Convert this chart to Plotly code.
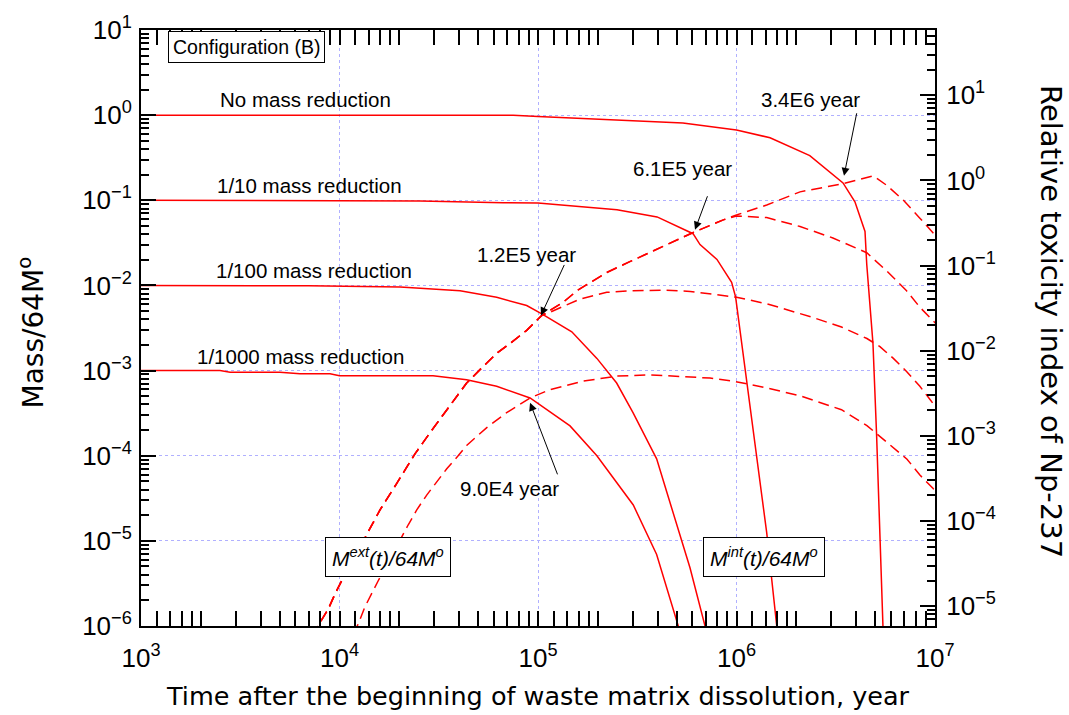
import plotly.graph_objects as go
import math

# ---------------- data ----------------
# Solid: mass remaining inside, M_int(t)/64M°
t_int_none = [1e3, 7.5e4, 1e5, 2.5e5, 5.37e5, 1e6, 1.476e6, 2.34e6, 3.44e6, 3.95e6, 4.44e6, 4.53e6, 4.87e6, 5.08e6, 5.47e6, 5.65e6]
m_int_none = [1.0, 1.0, 0.964, 0.885, 0.81, 0.671, 0.542, 0.335, 0.16, 0.096, 0.043, 0.0177, 2.08e-3, 1.73e-4, 1e-6, 1e-7]

t_int_tenth = [1e3, 2.02e4, 2.55e4, 6.67e4, 1e5, 2.5e5, 3.98e5, 6.04e5, 6.55e5, 7.97e5, 9.45e5, 9.9e5, 1.34e6, 1.42e6, 1.595e6, 1.77e6]
m_int_tenth = [0.1, 0.1, 0.098, 0.0935, 0.0928, 0.0776, 0.0638, 0.0405, 0.0302, 0.0202, 0.0109, 7.3e-3, 3.77e-5, 1.24e-5, 1e-6, 1e-7]

t_int_hundredth = [1e3, 7.0e3, 2.02e4, 4.05e4, 6.19e4, 8.77e4, 1.045e5, 1.48e5, 1.98e5, 2.49e5, 3.01e5, 3.96e5, 4.45e5, 5.83e5, 6.94e5, 8.93e5]
m_int_hundredth = [0.01, 9.9e-3, 9.56e-3, 8.65e-3, 7.26e-3, 5.80e-3, 4.64e-3, 2.85e-3, 1.39e-3, 7.14e-4, 3.2e-4, 9.2e-5, 3.77e-5, 4.84e-6, 1e-6, 1e-7]

t_int_thousandth = [1e3, 2.5e3, 2.81e3, 5.01e3, 6.32e3, 8.96e3, 1.0e4, 2.96e4, 4.37e4, 6.19e4, 9.12e4, 1.45e5, 1.98e5, 2.69e5, 3.02e5, 3.96e5, 5.09e5, 6.86e5]
m_int_thousandth = [1e-3, 1e-3, 9.57e-4, 9.57e-4, 9.16e-4, 9.16e-4, 8.68e-4, 8.68e-4, 7.8e-4, 6.53e-4, 4.77e-4, 2.24e-4, 1.0e-4, 3.77e-5, 2.64e-5, 6.93e-6, 1e-6, 1e-7]

# Dashed: mass released outside, M_ext(t)/64M°
t_ext_none = [4.63e3, 7.82e3, 8.79e3, 9.49e3, 1.026e4, 1.452e4, 1.60e4, 1.94e4, 2.40e4, 2.86e4, 3.47e4, 4.37e4, 5.30e4, 6.19e4, 7.23e4, 8.77e4, 1.045e5,
              1.34e5, 1.57e5, 2.22e5, 2.90e5, 4.28e5, 5.98e5, 8.58e5, 1.0e6, 1.42e6, 2.09e6, 3.45e6, 4.88e6, 5.71e6, 6.92e6, 8.39e6, 9.79e6, 1.07e7]
m_ext_none = [1e-7, 1.02e-6, 1.59e-6, 2.38e-6, 3.40e-6, 1.545e-5, 2.31e-5, 4.71e-5, 1.05e-4, 1.87e-4, 3.50e-4, 7.14e-4, 1.12e-3, 1.59e-3, 2.08e-3, 2.97e-3, 4.44e-3,
              6.35e-3, 8.65e-3, 1.42e-2, 1.9e-2, 2.88e-2, 4.13e-2, 5.89e-2, 6.73e-2, 8.79e-2, 0.1256, 0.157, 0.1936, 0.150, 0.1005, 6.17e-2, 4.13e-2, 3.27e-2]

t_ext_tenth = [4.63e3, 7.82e3, 8.79e3, 9.49e3, 1.026e4, 1.452e4, 1.60e4, 1.94e4, 2.40e4, 2.86e4, 3.47e4, 4.37e4, 5.30e4, 6.19e4, 7.23e4, 8.77e4, 1.045e5,
               1.34e5, 1.57e5, 2.22e5, 2.90e5, 4.28e5, 5.98e5, 8.58e5, 1.0e6, 1.42e6, 2.09e6, 3.06e6, 4.53e6, 5.71e6, 7.19e6, 8.39e6, 9.79e6, 1.07e7]
m_ext_tenth = [1e-7, 1.02e-6, 1.59e-6, 2.38e-6, 3.40e-6, 1.545e-5, 2.31e-5, 4.71e-5, 1.05e-4, 1.87e-4, 3.50e-4, 7.14e-4, 1.12e-3, 1.59e-3, 2.08e-3, 2.97e-3, 4.44e-3,
               6.35e-3, 8.65e-3, 1.42e-2, 1.9e-2, 2.88e-2, 4.13e-2, 5.89e-2, 6.55e-2, 6.27e-2, 4.92e-2, 3.61e-2, 2.42e-2, 1.48e-2, 8.65e-3, 5.55e-3, 3.88e-3, 3.1e-3]

t_ext_hundredth = [4.63e3, 7.82e3, 8.79e3, 9.49e3, 1.026e4, 1.452e4, 1.60e4, 1.94e4, 2.40e4, 2.86e4, 3.47e4, 4.37e4, 5.30e4, 6.19e4, 7.23e4, 8.77e4, 1.045e5,
                   1.15e5, 1.63e5, 2.22e5, 2.90e5, 4.28e5, 5.85e5, 8.47e5, 1.0e6, 1.43e6, 2.39e6, 3.38e6, 4.54e6, 5.28e6, 6.17e6, 7.19e6, 8.39e6, 9.44e6, 1.07e7]
m_ext_hundredth = [1e-7, 1.02e-6, 1.59e-6, 2.38e-6, 3.40e-6, 1.545e-5, 2.31e-5, 4.71e-5, 1.05e-4, 1.87e-4, 3.50e-4, 7.14e-4, 1.12e-3, 1.59e-3, 2.08e-3, 2.97e-3, 4.44e-3,
                   4.85e-3, 6.93e-3, 8.30e-3, 8.65e-3, 8.81e-3, 8.51e-3, 7.57e-3, 7.26e-3, 6.07e-3, 4.25e-3, 3.25e-3, 2.38e-3, 1.91e-3, 1.39e-3, 9.77e-4, 6.53e-4, 4.57e-4, 3.12e-4]

t_ext_thousandth = [7.73e3, 1.245e4, 1.34e4, 1.452e4, 1.567e4, 2.22e4, 2.45e4, 2.75e4, 3.09e4, 3.47e4, 3.96e4, 4.37e4, 5.52e4, 6.95e4, 9.12e4, 1.15e5, 1.69e5,
                    2.49e5, 3.66e5, 5.37e5, 7.35e5, 9.59e5, 1.43e6, 2.09e6, 3.38e6, 4.54e6, 5.73e6, 7.23e6, 8.39e6, 9.79e6, 1.07e7]
m_ext_thousandth = [1e-7, 1.07e-6, 1.66e-6, 2.38e-6, 3.40e-6, 1.545e-5, 2.31e-5, 3.45e-5, 4.92e-5, 7.03e-5, 1.0e-4, 1.32e-4, 2.14e-4, 3.20e-4, 4.77e-4, 5.97e-4, 7.53e-4,
                    8.61e-4, 8.91e-4, 8.53e-4, 8.17e-4, 7.53e-4, 6.25e-4, 5.05e-4, 3.47e-4, 2.26e-4, 1.44e-4, 9.1e-5, 5.94e-5, 4.11e-5, 3.13e-5]

# Curve labels
curve_labels = ["No mass reduction", "1/10 mass reduction", "1/100 mass reduction", "1/1000 mass reduction"]

# Intersection annotations (label, arrow-tip time, arrow-tip mass)
cross_labels = ["3.4E6 year", "6.1E5 year", "1.2E5 year", "9.0E4 year"]
cross_t = [3.48e6, 6.18e5, 1.035e5, 9.12e4]
cross_m = [0.194, 0.0451, 4.44e-3, 4.18e-4]

# Axis ticks
x_tickvals = [1e3, 1e4, 1e5, 1e6, 1e7]
x_ticktext = ["10<sup>3</sup>", "10<sup>4</sup>", "10<sup>5</sup>", "10<sup>6</sup>", "10<sup>7</sup>"]
y_tickvals = [1e-6, 1e-5, 1e-4, 1e-3, 1e-2, 1e-1, 1e0, 1e1]
y_ticktext = ["10<sup>−6</sup>", "10<sup>−5</sup>", "10<sup>−4</sup>", "10<sup>−3</sup>",
              "10<sup>−2</sup>", "10<sup>−1</sup>", "10<sup>0</sup>", "10<sup>1</sup>"]
y2_tickvals = [1e-5, 1e-4, 1e-3, 1e-2, 1e-1, 1e0, 1e1]
y2_ticktext = ["10<sup>−5</sup>", "10<sup>−4</sup>", "10<sup>−3</sup>", "10<sup>−2</sup>",
               "10<sup>−1</sup>", "10<sup>0</sup>", "10<sup>1</sup>"]

# ---------------- figure ----------------
RED = "#ff0000"
fig = go.Figure()

for t, m in [(t_int_none, m_int_none), (t_int_tenth, m_int_tenth),
             (t_int_hundredth, m_int_hundredth), (t_int_thousandth, m_int_thousandth)]:
    fig.add_trace(go.Scatter(x=t, y=m, mode="lines", line=dict(color=RED, width=1.5),
                             showlegend=False, hoverinfo="skip"))

for t, m in [(t_ext_none, m_ext_none), (t_ext_tenth, m_ext_tenth),
             (t_ext_hundredth, m_ext_hundredth), (t_ext_thousandth, m_ext_thousandth)]:
    fig.add_trace(go.Scatter(x=t, y=m, mode="lines", line=dict(color=RED, width=1.5, dash="11px,6px"),
                             showlegend=False, hoverinfo="skip"))

# helper trace so the right-hand axis is drawn
fig.add_trace(go.Scatter(x=[1e3], y=[None], yaxis="y2", mode="lines", showlegend=False, hoverinfo="skip"))

x_minor = [k * 10 ** e for e in range(3, 7) for k in (1.2, 1.4, 1.6, 1.8, 2, 3, 4, 5, 6, 7, 8, 9)]
y_minor = [k * 10.0 ** e for e in range(-7, 2) for k in (2, 3, 4, 5, 6, 7, 8, 9)]

TICKFONT = dict(family="Liberation Sans, Arial, sans-serif", size=26, color="black")
GRID = "#b0b0ff"

fig.update_layout(
    width=1069, height=715,
    margin=dict(l=141, r=134, t=23, b=89),
    paper_bgcolor="white", plot_bgcolor="white",
    showlegend=False,
    xaxis=dict(type="log", range=[3, 7], tickvals=x_tickvals, ticktext=x_ticktext,
               ticks="inside", ticklen=15, tickwidth=2, tickcolor="black",
               showline=True, linecolor="black", linewidth=2, mirror="allticks",
               showgrid=True, gridcolor=GRID, griddash="dot", gridwidth=1,
               tickfont=TICKFONT, ticklabelstandoff=8, zeroline=False,
               minor=dict(tickvals=x_minor, ticks="inside", ticklen=8, tickwidth=1.5,
                          tickcolor="black", showgrid=False)),
    yaxis=dict(type="log", range=[-6, 1], tickvals=y_tickvals, ticktext=y_ticktext,
               ticks="inside", ticklen=15, tickwidth=2, tickcolor="black",
               showline=True, linecolor="black", linewidth=2, mirror=False,
               showgrid=True, gridcolor=GRID, griddash="dot", gridwidth=1,
               tickfont=TICKFONT, ticklabelstandoff=2, zeroline=False,
               minor=dict(tickvals=y_minor, ticks="inside", ticklen=8, tickwidth=1.5,
                          tickcolor="black", showgrid=False)),
    yaxis2=dict(type="log", range=[-5.232, 1.766], overlaying="y", side="right",
                tickvals=y2_tickvals, ticktext=y2_ticktext,
                ticks="inside", ticklen=15, tickwidth=2, tickcolor="black",
                showline=True, linecolor="black", linewidth=2,
                showgrid=False, zeroline=False,
                tickfont=TICKFONT, ticklabelstandoff=4,
                minor=dict(tickvals=y_minor, ticks="inside", ticklen=8, tickwidth=1.5,
                           tickcolor="black", showgrid=False)),
)

LABELFONT = dict(family="Liberation Sans, Arial, sans-serif", size=20.5, color="black")

# curve labels (paper coordinates)
label_pos = [(0.2078, 0.8839), (0.2116, 0.7396), (0.2179, 0.5959), (0.2003, 0.4527)]
for txt, (px, py) in zip(curve_labels, label_pos):
    fig.add_annotation(x=px, y=py, xref="paper", yref="paper", text=txt, showarrow=False,
                       font=LABELFONT, xanchor="center", yanchor="middle")

# intersection labels and arrows
cross_text_pos = [(0.8426, 0.8839), (0.6814, 0.7678), (0.4861, 0.6235), (0.4635, 0.2305)]
arrow_offsets = [(13, -64), (13, -35), (24, -52), (28, 73)]
for txt, (px, py) in zip(cross_labels, cross_text_pos):
    fig.add_annotation(x=px, y=py, xref="paper", yref="paper", text=txt, showarrow=False,
                       font=LABELFONT, xanchor="center", yanchor="middle")
for t, m, (ax, ay) in zip(cross_t, cross_m, arrow_offsets):
    fig.add_annotation(x=math.log10(t), y=math.log10(m), xref="x", yref="y", text="",
                       showarrow=True, ax=ax, ay=ay, axref="pixel", ayref="pixel",
                       arrowhead=2, arrowsize=1.6, arrowwidth=1, arrowcolor="black", standoff=0)

# boxes
fig.add_annotation(x=0.1335, y=0.972, xref="paper", yref="paper", text="Configuration (B)",
                   showarrow=False, font=dict(family="Liberation Sans, Arial, sans-serif", size=19.5, color="black"),
                   bordercolor="black", borderwidth=1, borderpad=4, bgcolor="white",
                   xanchor="center", yanchor="middle")
BOXFONT = dict(family="Liberation Sans, Arial, sans-serif", size=21, color="black")
fig.add_annotation(x=0.3111, y=0.1166, xref="paper", yref="paper",
                   text="<i>M<sup>ext</sup>(t)/64M<sup>o</sup></i>", showarrow=False, font=BOXFONT,
                   bordercolor="black", borderwidth=1, borderpad=6, bgcolor="white",
                   xanchor="center", yanchor="middle")
fig.add_annotation(x=0.7844, y=0.1166, xref="paper", yref="paper",
                   text="<i>M<sup>int</sup>(t)/64M<sup>o</sup></i>", showarrow=False, font=BOXFONT,
                   bordercolor="black", borderwidth=1, borderpad=6, bgcolor="white",
                   xanchor="center", yanchor="middle")

# axis titles
TITLEFONT = "DejaVu Sans, Liberation Sans, sans-serif"
fig.add_annotation(x=0.4994, y=-0.1177, xref="paper", yref="paper",
                   text="Time after the beginning of waste matrix dissolution, year",
                   showarrow=False, font=dict(family=TITLEFONT, size=25.5, color="black"),
                   xanchor="center", yanchor="middle")
fig.add_annotation(x=-0.1373, y=0.4925, xref="paper", yref="paper", text="Mass/64M<sup>o</sup>",
                   showarrow=False, font=dict(family=TITLEFONT, size=28, color="black"),
                   textangle=-90, xanchor="center", yanchor="middle")
fig.add_annotation(x=1.146, y=0.51, xref="paper", yref="paper", text="Relative toxicity index of Np-237",
                   showarrow=False, font=dict(family=TITLEFONT, size=29, color="black"),
                   textangle=90, xanchor="center", yanchor="middle")

fig.write_html("out.html")
